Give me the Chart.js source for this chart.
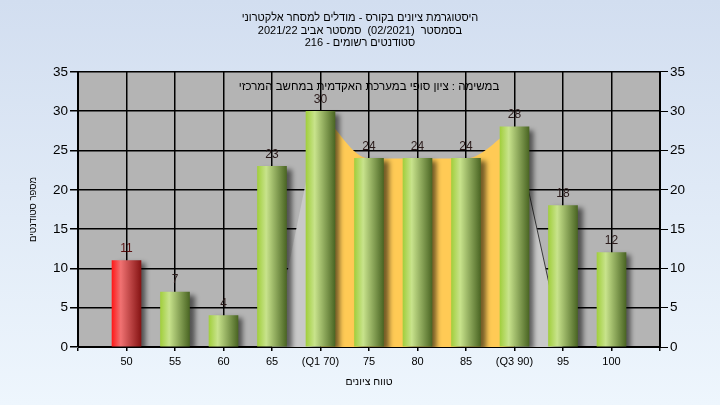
<!DOCTYPE html>
<html>
<head>
<meta charset="utf-8">
<script src="https://cdn.jsdelivr.net/npm/chart.js@4/dist/chart.umd.min.js"></script>
<style>
  html, body { margin: 0; padding: 0; }
  #wrap { width: 720px; height: 405px; }
</style>
</head>
<body>
<div id="wrap"><canvas id="myChart"></canvas></div>
<script>
// data
const labels = ['', '50', '55', '60', '65', '(Q1 70)', '75', '80', '85', '(Q3 90)', '95', '100', ''];
const counts = [null, 11, 7, 4, 23, 30, 24, 24, 24, 28, 18, 12, null];
const iqrArea = [null, null, null, null, null, 30, 24, 24, 24, 28, null, null, null];
const lowTail = [null, null, null, null, 0, 30, null, null, null, null, null, null, null];
const highTail = [null, null, null, null, null, null, null, null, null, 28, 0, null, null];
const failing = ['50'];
const yTicks = [0, 5, 10, 15, 20, 25, 30, 35];
const titleLines = [
    'היסטוגרמת ציונים בקורס - מודלים למסחר אלקטרוני',
    'בסמסטר  (02/2021)  סמסטר אביב 2021/22',
    'סטודנטים רשומים - 216'
];
const noteText = 'במשימה : ציון סופי במערכת האקדמית במחשב המרכזי';
const yTitle = 'מספר סטודנטים';
const xTitle = 'טווח ציונים';

const FONT = "'Liberation Sans', Arial, sans-serif";

function barFill(ctx) {
    const chart = ctx.chart;
    const i = ctx.dataIndex;
    const red = failing.includes(labels[i]);
    const x = chart.scales.x ? chart.scales.x.getPixelForValue(i) : NaN;
    if (!isFinite(x)) return red ? '#d02020' : '#8cb040';
    const g = chart.ctx.createLinearGradient(x - 14.5, 0, x + 14.5, 0);
    if (red) {
        g.addColorStop(0, '#ff1a1a');
        g.addColorStop(0.3, '#f07272');
        g.addColorStop(1, '#861414');
    } else {
        g.addColorStop(0, '#a2cf3e');
        g.addColorStop(0.3, '#c8e38c');
        g.addColorStop(1, '#4b6624');
    }
    return g;
}

const background = {
    id: 'background',
    beforeDraw(chart) {
        const {ctx, width, height, chartArea: a} = chart;
        ctx.save();
        const g = ctx.createLinearGradient(0, 0, 0, height);
        g.addColorStop(0, '#d2def0');
        g.addColorStop(1, '#eef6fd');
        ctx.fillStyle = g;
        ctx.fillRect(0, 0, width, height);
        ctx.fillStyle = '#b4b4b4';
        ctx.fillRect(a.left, a.top, a.right - a.left, a.bottom - a.top);
        ctx.restore();
    }
};

const barShadow = {
    id: 'barShadow',
    beforeDatasetDraw(chart, args) {
        if (args.meta.type !== 'bar') return;
        const ctx = chart.ctx;
        ctx.save();
        ctx.shadowColor = 'rgba(0,0,0,0.55)';
        ctx.shadowBlur = 5;
        ctx.shadowOffsetX = 5;
        ctx.shadowOffsetY = 3;
    },
    afterDatasetDraw(chart, args) {
        if (args.meta.type !== 'bar') return;
        chart.ctx.restore();
    }
};

const barLabels = {
    id: 'barLabels',
    afterDatasetsDraw(chart) {
        const ctx = chart.ctx;
        const a = chart.chartArea;
        ctx.save();
        ctx.textAlign = 'center';
        ctx.textBaseline = 'middle';
        ctx.font = '12px ' + FONT;
        chart.data.datasets.forEach((ds, di) => {
            const meta = chart.getDatasetMeta(di);
            if (meta.type !== 'bar') return;
            meta.data.forEach((el, i) => {
                if (ds.data[i] == null) return;
                ctx.fillStyle = failing.includes(labels[i]) ? '#5a1010' : '#2a1a1a';
                ctx.fillText(String(ds.data[i]), el.x, el.y - 12);
            });
        });
        ctx.fillStyle = '#000';
        ctx.font = '11.5px ' + FONT;
        ctx.fillText(noteText, (a.left + a.right) / 2, a.top + 15);
        ctx.restore();
    }
};

new Chart(document.getElementById('myChart'), {
    type: 'bar',
    data: {
        labels: labels,
        datasets: [{
            type: 'bar',
            data: counts,
            backgroundColor: barFill,
            barThickness: 29,
            order: 1
        }, {
            type: 'line',
            data: iqrArea,
            fill: 'origin',
            backgroundColor: '#ffca55',
            borderWidth: 0,
            pointRadius: 0,
            cubicInterpolationMode: 'monotone',
            order: 2
        }, {
            type: 'line',
            data: lowTail,
            fill: 'origin',
            backgroundColor: '#c9c9c9',
            borderWidth: 0,
            pointRadius: 0,
            order: 3
        }, {
            type: 'line',
            data: highTail,
            fill: 'origin',
            backgroundColor: '#c9c9c9',
            borderColor: '#3a3a3a',
            borderWidth: 1,
            pointRadius: 0,
            order: 3
        }]
    },
    options: {
        responsive: true,
        maintainAspectRatio: false,
        animation: false,
        layout: { padding: 0 },
        plugins: {
            legend: { display: false },
            tooltip: { enabled: false },
            title: {
                display: true,
                text: titleLines,
                color: '#000',
                font: { family: FONT, size: 11, weight: 'normal', lineHeight: 1.18 },
                padding: { top: 11, bottom: 22 }
            }
        },
        scales: {
            x: {
                offset: false,
                grid: { offset: false, color: '#000', lineWidth: 1.5, tickLength: 4, tickColor: '#000' },
                border: { color: '#000', width: 1 },
                ticks: { color: '#000', font: { family: FONT, size: 11 }, padding: 4, maxRotation: 0, autoSkip: false },
                title: { display: true, text: xTitle, color: '#000', font: { family: FONT, size: 10.5 }, padding: { top: 17, bottom: 17 } },
                afterFit(scale) { scale.height = 58; }
            },
            y: {
                position: 'left',
                min: 0, max: 35,
                afterBuildTicks(scale) { scale.ticks = yTicks.map(v => ({ value: v })); },
                grid: { color: '#000', lineWidth: 1.5, tickLength: 8, tickColor: '#000' },
                border: { color: '#000', width: 1 },
                ticks: { color: '#000', font: { family: FONT, size: 13.5 }, padding: 2 },
                title: { display: true, text: yTitle, color: '#000', font: { family: FONT, size: 9.5 }, padding: { top: 28, bottom: 28 } },
                afterFit(scale) { scale.width = 78; }
            },
            y2: {
                position: 'right',
                min: 0, max: 35,
                afterBuildTicks(scale) { scale.ticks = yTicks.map(v => ({ value: v })); },
                grid: { drawOnChartArea: false, tickLength: 8, tickColor: '#000' },
                border: { color: '#000', width: 1 },
                ticks: { color: '#000', font: { family: FONT, size: 13.5 }, padding: 2 },
                afterFit(scale) { scale.width = 60; }
            }
        }
    },
    plugins: [background, barShadow, barLabels]
});
</script>
</body>
</html>
